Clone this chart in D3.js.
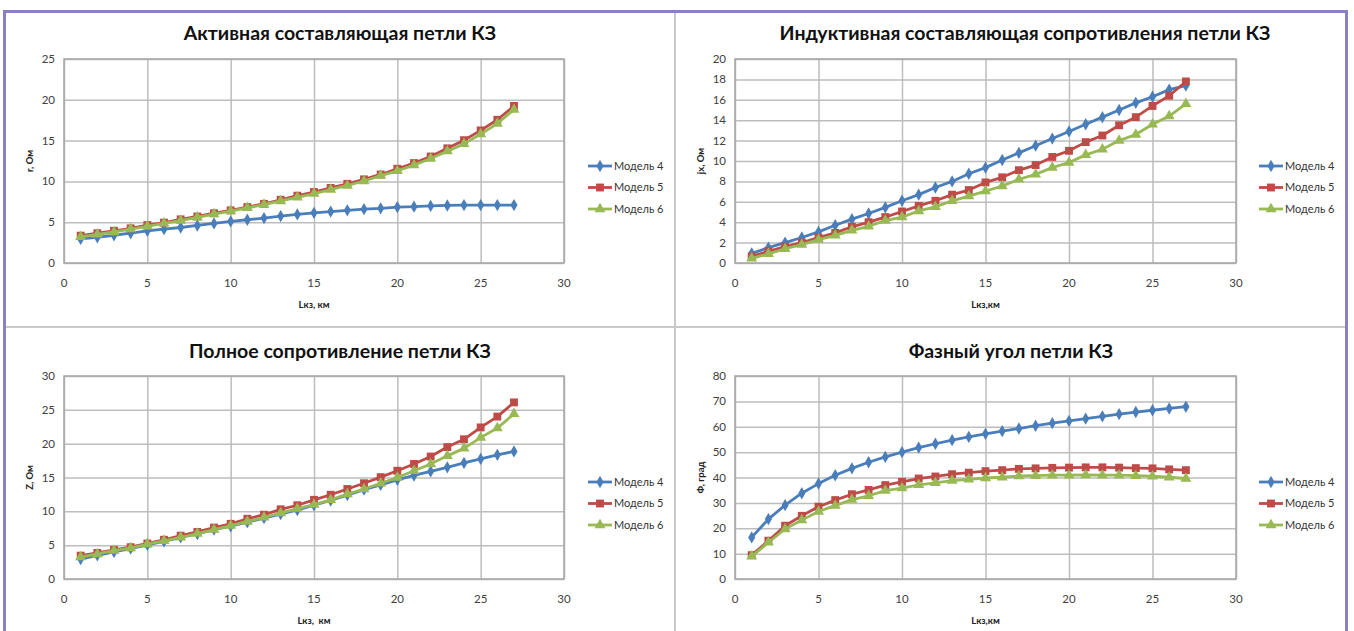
<!DOCTYPE html>
<html>
<head>
<meta charset="utf-8">
<script src="https://cdn.jsdelivr.net/npm/d3@7"></script>
<style>
  body { margin: 0; background: #fff; }
  svg { display: block; font-family: Lato, "Open Sans", sans-serif; }
</style>
</head>
<body>
<svg id="viz" width="1354" height="631"></svg>
<script>
// data
const lenKm = [1,2,3,4,5,6,7,8,9,10,11,12,13,14,15,16,17,18,19,20,21,22,23,24,25,26,27]
const seriesNames = ["Модель 4", "Модель 5", "Модель 6"]

// активная составляющая r, Ом
const rModel4 = [2.95,3.15,3.4,3.65,3.95,4.15,4.35,4.6,4.85,5.1,5.3,5.5,5.75,5.95,6.15,6.3,6.45,6.6,6.7,6.85,6.9,7.0,7.05,7.1,7.1,7.1,7.1]
const rModel5 = [3.35,3.65,3.95,4.25,4.65,4.95,5.35,5.7,6.1,6.45,6.85,7.25,7.75,8.25,8.7,9.2,9.7,10.25,10.85,11.55,12.25,13.05,14.05,15.05,16.25,17.55,19.25]
const rModel6 = [3.2,3.5,3.8,4.15,4.5,4.85,5.2,5.6,6.0,6.35,6.75,7.15,7.6,8.05,8.5,9.0,9.5,10.05,10.7,11.3,12.0,12.8,13.7,14.6,15.8,17.1,18.8]

// индуктивная составляющая jx, Ом
const xModel4 = [0.95,1.5,2.0,2.5,3.05,3.7,4.3,4.85,5.45,6.1,6.7,7.4,8.0,8.75,9.35,10.1,10.8,11.5,12.2,12.9,13.6,14.3,15.0,15.7,16.3,17.0,17.4]
const xModel5 = [0.65,1.15,1.6,2.0,2.5,2.95,3.55,4.0,4.5,5.05,5.6,6.1,6.7,7.15,7.9,8.4,9.1,9.6,10.4,11.0,11.85,12.5,13.5,14.3,15.4,16.4,17.8]
const xModel6 = [0.45,0.9,1.4,1.8,2.3,2.7,3.2,3.6,4.15,4.5,5.1,5.5,6.1,6.55,7.05,7.55,8.2,8.7,9.35,9.85,10.6,11.15,12.0,12.6,13.6,14.4,15.6]

// полное сопротивление Z, Ом
const zModel4 = [2.95,3.5,4.0,4.5,5.05,5.55,6.15,6.65,7.3,7.8,8.4,9.0,9.6,10.2,10.9,11.6,12.4,13.2,13.9,14.65,15.3,15.9,16.5,17.15,17.75,18.35,18.85]
const zModel5 = [3.45,3.85,4.3,4.7,5.25,5.8,6.4,6.95,7.6,8.15,8.9,9.5,10.3,10.9,11.7,12.45,13.3,14.15,15.05,16.0,17.0,18.1,19.5,20.65,22.4,24.0,26.1]
const zModel6 = [3.25,3.7,4.2,4.55,5.15,5.65,6.15,6.7,7.3,7.9,8.5,9.1,9.75,10.4,11.0,11.7,12.55,13.3,14.15,15.0,16.0,17.0,18.2,19.3,20.9,22.3,24.4]

// фазный угол, град
const phiModel4 = [16.4,23.6,29.1,33.8,37.6,40.9,43.6,46.0,48.1,50.0,51.8,53.3,54.7,56.0,57.2,58.3,59.3,60.4,61.4,62.3,63.2,64.1,65.0,65.8,66.5,67.2,67.9]
const phiModel5 = [9.4,15.1,21.0,24.9,28.5,31.1,33.4,35.1,37.0,38.3,39.6,40.4,41.3,41.9,42.5,42.9,43.4,43.6,43.8,43.9,44.0,44.0,43.9,43.7,43.6,43.2,42.9]
const phiModel6 = [8.9,14.4,19.7,23.2,26.6,28.9,31.3,32.8,34.8,35.8,37.1,37.9,38.8,39.3,39.8,40.1,40.6,40.7,40.9,40.9,41.0,40.9,40.9,40.7,40.5,40.1,39.6]

const colors = ["#4a7ebb", "#be4b48", "#98b954"]
const markers = [d3.symbolDiamond, d3.symbolSquare, d3.symbolTriangle]
const markerSize = [44, 62, 52]

const panels = [
  { title: "Активная составляющая петли КЗ", titleX: 340, titleY: 33,
    yLabel: "r, Ом", xLabel: "Lкз, км", yMax: 25, yStep: 5,
    left: 64, right: 564, top: 59, bottom: 263, legendX: 588, legendY: 166,
    series: [rModel4, rModel5, rModel6] },
  { title: "Индуктивная составляющая сопротивления петли КЗ", titleX: 1025, titleY: 33,
    yLabel: "jx, Ом", xLabel: "Lкз,км", yMax: 20, yStep: 2,
    left: 735, right: 1236, top: 59, bottom: 263, legendX: 1259, legendY: 166,
    series: [xModel4, xModel5, xModel6] },
  { title: "Полное сопротивление петли КЗ", titleX: 340, titleY: 351,
    yLabel: "Z, Ом", xLabel: "Lкз,  км", yMax: 30, yStep: 5,
    left: 64, right: 564, top: 376, bottom: 579, legendX: 588, legendY: 482,
    series: [zModel4, zModel5, zModel6] },
  { title: "Фазный угол петли КЗ", titleX: 1011, titleY: 351,
    yLabel: "Ф, град", xLabel: "Lкз,км", yMax: 80, yStep: 10,
    left: 735, right: 1236, top: 376, bottom: 579, legendX: 1259, legendY: 482,
    series: [phiModel4, phiModel5, phiModel6] }
]

const svg = d3.select("#viz")

// outer frame and dividers
svg.append("line").attr("x1", 675).attr("x2", 675).attr("y1", 11).attr("y2", 631)
  .attr("stroke", "#c9c9c9").attr("stroke-width", 2)
svg.append("line").attr("x1", 4).attr("x2", 1347).attr("y1", 327).attr("y2", 327)
  .attr("stroke", "#c9c9c9").attr("stroke-width", 2)
svg.append("path").attr("d", "M4.5,640V11.5H1346.5V640")
  .attr("fill", "none").attr("stroke", "#8c80c0").attr("stroke-width", 3)

panels.forEach(drawPanel)

function drawPanel(p) {
  const g = svg.append("g")
  const x = d3.scaleLinear().domain([0, 30]).range([p.left, p.right])
  const y = d3.scaleLinear().domain([0, p.yMax]).range([p.bottom, p.top])
  const yTicks = d3.range(0, p.yMax + p.yStep / 2, p.yStep)
  const xTicks = [0, 5, 10, 15, 20, 25, 30]

  // grid
  g.append("g")
    .attr("transform", `translate(${p.left},0)`)
    .call(d3.axisLeft(y).tickValues(yTicks).tickSize(-(p.right - p.left)).tickFormat(""))
    .call(a => a.select(".domain").remove())
    .selectAll("line").attr("stroke", "#bdbdbd").attr("stroke-width", 1.5)
  g.append("g")
    .attr("transform", `translate(0,${p.bottom})`)
    .call(d3.axisBottom(x).tickValues(xTicks).tickSize(-(p.bottom - p.top)).tickFormat(""))
    .call(a => a.select(".domain").remove())
    .selectAll("line").attr("stroke", "#bdbdbd").attr("stroke-width", 1.5)

  g.append("rect")
    .attr("x", p.left).attr("y", p.top)
    .attr("width", p.right - p.left).attr("height", p.bottom - p.top)
    .attr("fill", "none").attr("stroke", "#a6a6a6").attr("stroke-width", 1.5)

  // tick labels
  g.selectAll(".ylab").data(yTicks).join("text")
    .attr("x", p.left - 9).attr("y", d => y(d)).attr("dy", "0.35em")
    .attr("text-anchor", "end").attr("font-size", 11.5).attr("fill", "#404040")
    .text(d => d)
  g.selectAll(".xlab").data(xTicks).join("text")
    .attr("x", d => x(d)).attr("y", p.bottom + 20).attr("dy", "0.35em")
    .attr("text-anchor", "middle").attr("font-size", 11.5).attr("fill", "#404040")
    .text(d => d)

  // titles
  g.append("text")
    .attr("x", p.titleX).attr("y", p.titleY).attr("dy", "0.35em")
    .attr("text-anchor", "middle").attr("font-size", 19.5).attr("font-weight", "bold")
    .attr("fill", "#111").text(p.title)
  g.append("text")
    .attr("transform", `translate(${p.left - 34},${(p.top + p.bottom) / 2}) rotate(-90)`)
    .attr("dy", "0.35em").attr("text-anchor", "middle")
    .attr("font-size", 9.5).attr("font-weight", "bold").attr("fill", "#222")
    .text(p.yLabel)
  g.append("text")
    .attr("x", (p.left + p.right) / 2).attr("y", p.bottom + 42).attr("dy", "0.35em")
    .attr("text-anchor", "middle").attr("font-size", 9.5).attr("font-weight", "bold")
    .attr("fill", "#222").attr("xml:space", "preserve").text(p.xLabel)

  const line = d3.line().x((d, i) => x(lenKm[i])).y(d => y(d))

  p.series.forEach((vals, s) => {
    g.append("path").datum(vals)
      .attr("d", line).attr("fill", "none")
      .attr("stroke", colors[s]).attr("stroke-width", 2.8)
      .attr("stroke-linejoin", "round")
    g.selectAll(null).data(vals).join("path")
      .attr("transform", (d, i) => `translate(${x(lenKm[i])},${y(d)})`)
      .attr("d", d3.symbol(markers[s], markerSize[s]))
      .attr("fill", colors[s])
  })

  // legend
  seriesNames.forEach((name, s) => {
    const ly = p.legendY + s * 21.5
    g.append("line")
      .attr("x1", p.legendX).attr("x2", p.legendX + 24)
      .attr("y1", ly).attr("y2", ly)
      .attr("stroke", colors[s]).attr("stroke-width", 2.8)
    g.append("path")
      .attr("transform", `translate(${p.legendX + 12},${ly})`)
      .attr("d", d3.symbol(markers[s], markerSize[s]))
      .attr("fill", colors[s])
    g.append("text")
      .attr("x", p.legendX + 26).attr("y", ly).attr("dy", "0.35em")
      .attr("font-size", 11).attr("fill", "#333")
      .text(name)
  })
}
</script>
</body>
</html>
